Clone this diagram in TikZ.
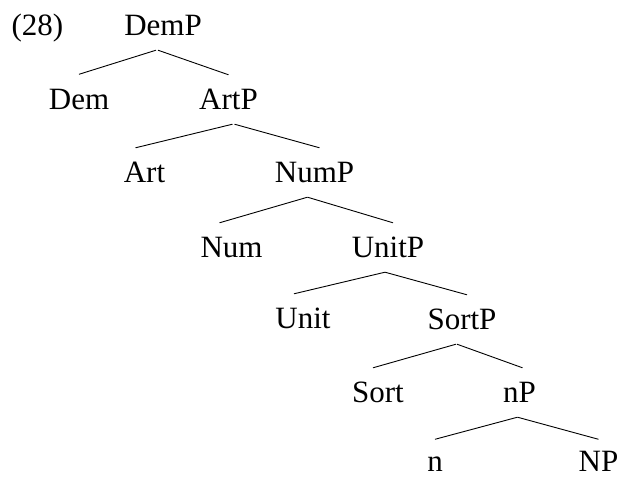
\documentclass[tikz,border=0pt]{standalone}
\usepackage{fontspec}
\setmainfont{Liberation Serif}
\tikzset{
  cat/.style={anchor=base, inner xsep=0pt, inner ysep=14pt, text height=21pt, text depth=0pt, font=\fontsize{31}{36}\selectfont},
  branch/.style={line width=0.9pt}
}
\begin{document}
\begin{tikzpicture}[x=1pt,y=-1pt]
			\useasboundingbox (0,0) rectangle (619,478);
			%%%%% NODES %%%%%
			\node[cat] (ex) at (37.5, 36) {(28)};
			\node[cat] (demp) at (163, 36) {DemP};
			
			\node[cat] (dem) at (79, 109.5) {Dem};
			\node[cat] (artp) at (228.5, 110) {ArtP};
			
			\node[cat] (art) at (144.5, 183) {Art};
			\node[cat] (nump) at (314.5, 183) {NumP};
			
			\node[cat] (num) at (231.5, 258) {Num};
			\node[cat] (unitp) at (388, 258) {UnitP};
			
			\node[cat] (unit) at (303, 329) {Unit};
			\node[cat] (sortp) at (462, 330) {SortP};
			
			\node[cat] (sort) at (378, 403) {Sort};
			\node[cat] (smallnp) at (519.5, 403) {nP};
			
			\node[cat] (smalln) at (435, 471.5) {n};
			\node[cat] (np) at (598.5, 471.5) {NP};
			
			%%%%% BRANCHES %%%%%
			\draw[branch] ([xshift=-7pt]demp.south) -- (dem.north);
			\draw[branch] ([xshift=-5pt]demp.south) -- (artp.north);
			
			\draw[branch] ([xshift=4pt]artp.south) -- ([xshift=-9pt]art.north);
			\draw[branch] ([xshift=6pt]artp.south) -- ([xshift=5pt]nump.north);
			
			\draw[branch] ([xshift=-7pt]nump.south) -- ([xshift=-12pt]num.north);
			\draw[branch] ([xshift=-7pt]nump.south) -- ([xshift=5pt]unitp.north);
			
			\draw[branch] ([xshift=-3pt]unitp.south) -- ([xshift=-9pt]unit.north);
			\draw[branch] ([xshift=-3pt]unitp.south) -- ([xshift=5pt]sortp.north);
			
			\draw[branch] ([xshift=-6pt]sortp.south) -- ([xshift=-5pt]sort.north);
			\draw[branch] ([xshift=-5pt]sortp.south) -- ([xshift=3pt]smallnp.north);
			
			\draw[branch] ([xshift=-2pt]smallnp.south) -- ([yshift=-3pt]smalln.north);
			\draw[branch] ([xshift=-2pt]smallnp.south) -- ([yshift=-3pt]np.north);
			%%%%% END %%%%%
\end{tikzpicture}
\end{document}
